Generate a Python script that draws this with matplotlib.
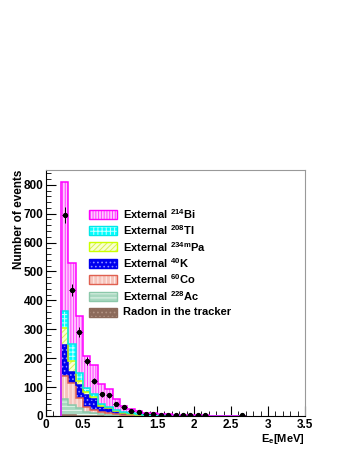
import numpy as np
import matplotlib
matplotlib.use("Agg")
import matplotlib.pyplot as plt
from matplotlib.patches import Rectangle
from matplotlib.ticker import MultipleLocator

plt.rcParams['font.family'] = ['Liberation Sans', 'DejaVu Sans']
plt.rcParams['font.weight'] = 'bold'
plt.rcParams['mathtext.fontset'] = 'custom'
plt.rcParams['mathtext.rm'] = 'Liberation Sans:bold'
plt.rcParams['mathtext.it'] = 'Liberation Sans:bold'
plt.rcParams['mathtext.bf'] = 'Liberation Sans:bold'
plt.rcParams['hatch.linewidth'] = 0.7

# energy bins (MeV), width 0.1, starting at 0.2
edges = np.round(np.arange(0.2, 2.71, 0.1), 2)

# stacked simulated contributions (bottom -> top)
radon = [3, 2, 1.2, 0.8, 0.5, 0.4, 0.3, 0.2, 0.2, 0.1, 0.1, 0.1, 0.1, 0.1,
         0, 0, 0, 0, 0, 0, 0, 0, 0, 0, 0]
ac228 = [57, 36, 26, 14, 8.5, 5.5, 3.7, 2, 1, 0.9, 0.5, 0.3, 0.3, 0.2, 0.2,
         0.1, 0.1, 0.1, 0.1, 0.1, 0, 0, 0, 0, 0]
co60 = [80, 75, 34, 17, 12, 7, 5, 4, 3, 1.2, 1, 0.7, 0.5, 0.3, 0.3, 0.2,
        0.1, 0.1, 0, 0, 0, 0, 0, 0, 0]
k40 = [106, 40, 46, 41, 37, 19, 18, 9, 5, 4, 2.5, 2, 1.2, 1, 0.5, 0.3,
       0.2, 0.1, 0.1, 0.1, 0, 0, 0, 0, 0]
pa234m = [60, 37, 14, 11, 9, 4, 2, 3, 2, 1, 1, 0.5, 0.5, 0.5, 0.4, 0.3,
          0.3, 0.2, 0.2, 0.1, 0.1, 0, 0, 0, 0]
tl208 = [58, 58, 27, 12, 8, 6, 3, 3, 2, 2, 2, 1.5, 1.5, 1.5, 1.2, 1.2, 1,
         1, 1, 0.8, 0.8, 0.6, 0.5, 0.4, 0.3]
bi214 = [444, 280, 197, 113, 100, 70, 62, 38, 22, 14, 10, 7, 5, 3.5, 3, 2,
         1.5, 1.2, 1, 0.8, 0.6, 0.4, 0.3, 0.2, 0.1]

# measured data
data_x = [0.25, 0.35, 0.45, 0.55, 0.65, 0.75, 0.85, 0.95, 1.05, 1.15, 1.25,
          1.35, 1.45, 1.55, 1.65, 1.75, 1.85, 1.95, 2.05, 2.15, 2.65]
data_y = [695, 435, 290, 190, 120, 76, 72, 43, 30, 17, 13, 8, 7, 5, 5, 3,
          3, 2, 2, 2, 2]

labels = ["Radon in the tracker", "External $^{228}$Ac", "External $^{60}$Co",
          "External $^{40}$K", "External $^{\\mathrm{234m}}$Pa",
          "External $^{208}$Tl", "External $^{214}$Bi"]
comps = [radon, ac228, co60, k40, pa234m, tl208, bi214]
# face, hatch colour, hatch, outline
styles = [("#8c6a5a", "#b39484", "....", "#8c6a5a"),
          ("#a8d8c0", "#e8f6ee", "----", "#8cc8aa"),
          ("#f6c4bc", "#fff0ee", "||||", "#e06050"),
          ("#0000ee", "#9090ff", "....", "#0000ee"),
          ("#f8ffd0", "#d8f050", "//////", "#ccff00"),
          ("#00ffff", "#c8ffff", "++++", "#00e8e8"),
          ("#ffc8ff", "#ff40ff", "||||||", "#ff00ff")]

fig = plt.figure(figsize=(3.49, 4.51), dpi=100)
ax = fig.add_axes([46 / 349, 35 / 451, 259 / 349, 246 / 451])

cum = np.zeros(len(edges) - 1)
for vals, (fc, hc, h, oc) in zip(comps, styles):
    vals = np.array(vals, dtype=float)
    ax.bar(edges[:-1], vals, width=0.1, bottom=cum, align='edge',
           facecolor=fc, edgecolor=hc, hatch=h, linewidth=0, zorder=2)
    cum = cum + vals
    ax.stairs(cum, edges, color=oc, linewidth=1.1, zorder=3)

data_y = np.array(data_y, dtype=float)
ax.errorbar(data_x, data_y, yerr=np.sqrt(data_y), xerr=0.04, fmt='o',
            color='black', markersize=2.8, elinewidth=0.7, capsize=0, zorder=5)

ax.set_xlim(0, 3.5)
ax.set_ylim(0, 851)
ax.xaxis.set_major_locator(MultipleLocator(0.5))
ax.xaxis.set_minor_locator(MultipleLocator(0.1))
ax.yaxis.set_major_locator(MultipleLocator(100))
ax.yaxis.set_minor_locator(MultipleLocator(20))
ax.tick_params(which='both', direction='in', top=False, right=False,
               labelsize=8.5, pad=2)
ax.tick_params(which='major', length=7, width=0.8)
ax.tick_params(which='minor', length=3.5, width=0.6)
ax.set_xticks([0, 0.5, 1, 1.5, 2, 2.5, 3, 3.5])
ax.set_xticklabels(["0", "0.5", "1", "1.5", "2", "2.5", "3", "3.5"])
for s in ['top', 'right']:
    ax.spines[s].set_color('#999999')
for s in ['left', 'bottom']:
    ax.spines[s].set_color('black')

ax.set_ylabel("Number of events", fontsize=8.5, fontweight='bold')
ax.yaxis.set_label_coords(-0.08, 1.0)
ax.yaxis.label.set_horizontalalignment('right')
ax.set_xlabel("E$_{e}$[MeV]", fontsize=8, fontweight='bold')
ax.xaxis.set_label_coords(1.0, -0.065)
ax.xaxis.label.set_horizontalalignment('right')

# legend drawn in figure pixels, top entry first
rows_y = [214, 230.3, 246.7, 263, 279.5, 296, 312.3]
for i, (lab, (fc, hc, h, oc)) in enumerate(zip(labels[::-1], styles[::-1])):
    yc = 451 - rows_y[i]
    r = Rectangle((89 / 349, (yc - 4.5) / 451), 28 / 349, 9 / 451,
                  transform=fig.transFigure, facecolor=fc, edgecolor=hc,
                  hatch=h, linewidth=0)
    fig.add_artist(r)
    r2 = Rectangle((89 / 349, (yc - 4.5) / 451), 28 / 349, 9 / 451,
                   transform=fig.transFigure, facecolor='none', edgecolor=oc,
                   linewidth=1.0)
    fig.add_artist(r2)
    fig.text(123 / 349, yc / 451, lab, fontsize=8, fontweight='bold',
             va='center', ha='left')

fig.savefig("out.png", dpi=100)
